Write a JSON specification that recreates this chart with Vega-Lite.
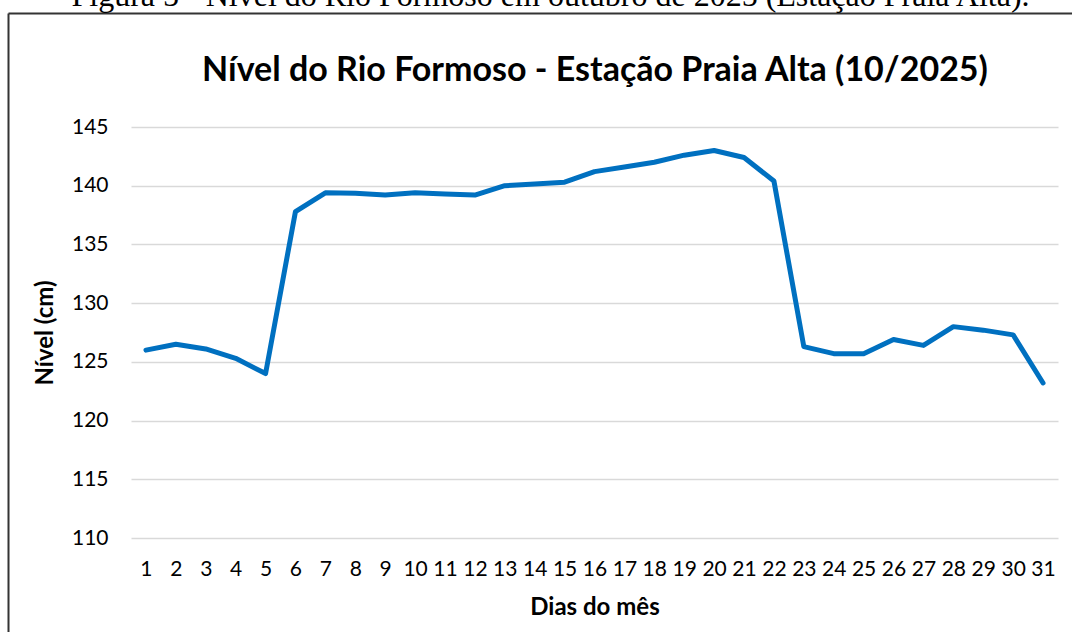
{
  "$schema": "https://vega.github.io/schema/vega-lite/v6.json",
  "autosize": {"type": "none"},
  "padding": {"left": 8, "top": 13, "right": 0, "bottom": 0},
  "width": 1064,
  "height": 619,
  "background": "white",
  "config": {
    "view": {"stroke": null},
    "font": "Lato",
    "axis": {"labelFont": "Lato", "titleFont": "Lato", "labelColor": "#000", "titleColor": "#000"}
  },
  "data": {
    "values": [
      {"dia": 1, "nivel": 126.0}, {"dia": 2, "nivel": 126.5}, {"dia": 3, "nivel": 126.1},
      {"dia": 4, "nivel": 125.3}, {"dia": 5, "nivel": 124.0}, {"dia": 6, "nivel": 137.8},
      {"dia": 7, "nivel": 139.4}, {"dia": 8, "nivel": 139.35}, {"dia": 9, "nivel": 139.2},
      {"dia": 10, "nivel": 139.4}, {"dia": 11, "nivel": 139.3}, {"dia": 12, "nivel": 139.2},
      {"dia": 13, "nivel": 140.0}, {"dia": 14, "nivel": 140.15}, {"dia": 15, "nivel": 140.3},
      {"dia": 16, "nivel": 141.2}, {"dia": 17, "nivel": 141.6}, {"dia": 18, "nivel": 142.0},
      {"dia": 19, "nivel": 142.6}, {"dia": 20, "nivel": 143.0}, {"dia": 21, "nivel": 142.4},
      {"dia": 22, "nivel": 140.4}, {"dia": 23, "nivel": 126.3}, {"dia": 24, "nivel": 125.7},
      {"dia": 25, "nivel": 125.7}, {"dia": 26, "nivel": 126.9}, {"dia": 27, "nivel": 126.4},
      {"dia": 28, "nivel": 128.0}, {"dia": 29, "nivel": 127.7}, {"dia": 30, "nivel": 127.3},
      {"dia": 31, "nivel": 123.2}
    ]
  },
  "resolve": {
    "scale": {"x": "independent", "y": "independent"},
    "axis": {"x": "independent", "y": "independent"}
  },
  "layer": [
    {
      "mark": {"type": "line", "color": "#0070C0", "strokeWidth": 5, "strokeCap": "round", "strokeJoin": "round"},
      "encoding": {
        "x": {
          "field": "dia", "type": "ordinal",
          "scale": {"type": "point", "range": [123, 1050], "padding": 0.5},
          "axis": {
            "orient": "bottom", "offset": -94, "domain": false, "ticks": false, "tickSize": 0,
            "labelAngle": 0, "labelFontSize": 21, "labelPadding": 20, "labelOverlap": false, "grid": false,
            "title": "Dias do mês", "titleFontSize": 24, "titleFontWeight": "bold", "titlePadding": 16
          }
        },
        "y": {
          "field": "nivel", "type": "quantitative",
          "scale": {"domain": [110, 145], "range": [525, 114], "nice": false, "zero": false},
          "axis": {
            "orient": "left", "offset": -123, "values": [110, 115, 120, 125, 130, 135, 140, 145],
            "domain": false, "ticks": false, "tickSize": 0, "labelFontSize": 21, "labelPadding": 23,
            "grid": true, "gridColor": "#d9d9d9", "gridWidth": 1.3,
            "title": "Nível (cm)", "titleFontSize": 24, "titleFontWeight": "bold", "titlePadding": 14
          }
        }
      }
    },
    {
      "mark": {"type": "line", "opacity": 0},
      "encoding": {
        "x": {
          "field": "dia", "type": "ordinal",
          "scale": {"type": "point", "range": [123, 1050], "padding": 0.5},
          "axis": {
            "orient": "top", "offset": -74, "domain": false, "ticks": false, "labels": false, "grid": false,
            "title": "Nível do Rio Formoso - Estação Praia Alta (10/2025)",
            "titleFontSize": 34, "titleFontWeight": "bold", "titlePadding": 0
          }
        },
        "y": {
          "field": "nivel", "type": "quantitative",
          "scale": {"domain": [110, 145], "range": [525, 114], "nice": false, "zero": false},
          "axis": null
        }
      }
    },
    {
      "mark": {"type": "line", "opacity": 0},
      "encoding": {
        "x": {
          "field": "dia", "type": "ordinal",
          "scale": {"type": "point", "range": [0, 1084]},
          "axis": {
            "orient": "top", "offset": 0, "domain": true, "domainColor": "#333", "domainWidth": 2,
            "ticks": false, "labels": false, "grid": false,
            "title": "Figura 5 - Nível do Rio Formoso em outubro de 2025 (Estação Praia Alta).",
            "titleFont": "Liberation Serif", "titleFontSize": 32, "titleFontWeight": "normal", "titlePadding": 1
          }
        },
        "y": {
          "field": "nivel", "type": "quantitative",
          "scale": {"range": [619, 0], "zero": false},
          "axis": {
            "orient": "left", "offset": 0, "domain": true, "domainColor": "#333", "domainWidth": 2,
            "labels": false, "ticks": false, "grid": false, "title": null
          }
        }
      }
    }
  ]
}
